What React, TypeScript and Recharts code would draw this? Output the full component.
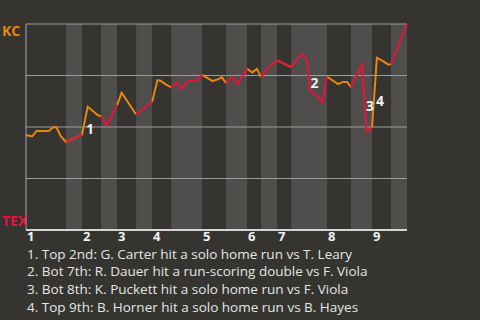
import {
  ComposedChart,
  Line,
  XAxis,
  YAxis,
  ReferenceArea,
  ReferenceLine,
  ReferenceDot,
} from "recharts";

// Game progress (% of plays) where each half-inning starts; last entry closes the game.
const halfStarts = [
  0, 10.5, 14.7, 19.7, 23.9, 28.9, 33.1, 38.1, 46.2, 52.5, 58.0, 61.7, 65.9,
  69.6, 79.0, 85.3, 90.8, 95.8, 100,
];
const innings = [1, 2, 3, 4, 5, 6, 7, 8, 9];

// Play-by-play position and KC win probability (%) after each play.
const progress = [
  0, 1.6, 2.8, 6.0, 7.1, 8.0, 9.1, 10.5, 14.7, 16.2, 18.9, 19.7, 21.2, 23.9,
  25.1, 28.9, 32.5, 33.1, 34.5, 35.2, 36.7, 38.1, 39.6, 40.9, 42.4, 44.8, 46.2,
  49.0, 50.5, 51.4, 52.5, 54.1, 55.5, 57.0, 58.0, 59.4, 60.6, 61.7, 63.8, 65.9,
  69.6, 71.4, 72.5, 73.6, 74.6, 76.2, 77.8, 79.0, 81.9, 83.2, 84.3, 85.3, 88.2,
  89.1, 89.4, 90.5, 90.8, 92.1, 93.7, 95.0, 95.8, 100,
];
const kcWinProb = [
  46.1, 45.4, 48.1, 48.1, 49.9, 49.9, 45.5, 42.7, 46.3, 59.8, 55.7, 55.2, 50.9,
  60.6, 66.6, 56.1, 61.4, 62.2, 72.7, 72.6, 70.7, 69.2, 71.6, 68.4, 72.4, 72.4,
  75.3, 72.3, 73.2, 74.2, 71.3, 74.4, 70.8, 75.3, 78.2, 76.5, 78.2, 74.2, 79.2,
  82.3, 79.1, 83.6, 85.4, 83.3, 67.5, 65.4, 61.9, 74.4, 70.8, 71.9, 71.9, 69.3,
  80.5, 54.1, 47.6, 49.1, 49.7, 83.6, 82.0, 80.4, 80.4, 100,
];

// Key plays: where the swing starts and ends, plus the note shown below.
const eventFrom = [14.7, 73.6, 88.2, 90.8];
const eventTo = [16.2, 74.6, 89.4, 92.1];
const eventNotes = [
  "Top 2nd: G. Carter hit a solo home run vs T. Leary",
  "Bot 7th: R. Dauer hit a run-scoring double vs F. Viola",
  "Bot 8th: K. Puckett hit a solo home run vs F. Viola",
  "Top 9th: B. Horner hit a solo home run vs B. Hayes",
];

const KC = "#e8870e";
const TEX = "#e8123c";
const BG = "#363431";
const BAND = "#4f4e4c";
const FONT = "'Open Sans', sans-serif";

const wpAt = (x: number) => kcWinProb[progress.indexOf(x)];

// a point belongs to the top (even) and/or bottom (odd) half it sits in
const chartData = progress.map((x, i) => {
  let top: number | null = null;
  let bottom: number | null = null;
  for (let h = 0; h < halfStarts.length - 1; h++) {
    if (x >= halfStarts[h] && x <= halfStarts[h + 1]) {
      if (h % 2 === 0) top = kcWinProb[i];
      else bottom = kcWinProb[i];
    }
  }
  return { x, top, bottom };
});

const inningTicks = innings.map((_, i) => halfStarts[i * 2]);

const InningTick = ({ x, y, index }: any) => (
  <text
    x={x + 1}
    y={y + 11}
    textAnchor="start"
    fill="#f0f0f0"
    fontFamily={FONT}
    fontWeight={700}
    fontSize={13}
  >
    {innings[index]}
  </text>
);

const TeamTick = ({ x, y, payload }: any) => {
  if (payload.value === 100)
    return (
      <text x={x - 24} y={y + 12} fill={KC} fontFamily={FONT} fontWeight={700} fontSize={14}>
        KC
      </text>
    );
  if (payload.value === 0)
    return (
      <text x={x - 24} y={y - 4} fill={TEX} fontFamily={FONT} fontWeight={700} fontSize={14}>
        TEX
      </text>
    );
  return <g />;
};

const EventLabel = (n: number) => (props: any) => {
  const { cx, cy } = props;
  return (
    <text
      x={cx + 8}
      y={cy + 13}
      textAnchor="middle"
      fill="#eeeeee"
      fontFamily={FONT}
      fontWeight={700}
      fontSize={14}
    >
      {n}
    </text>
  );
};

export default function App() {
  return (
    <div
      style={{
        position: "fixed",
        left: 0,
        top: 0,
        width: 480,
        height: 320,
        background: BG,
        fontFamily: FONT,
      }}
    >
      <ComposedChart
        width={480}
        height={250}
        data={chartData}
        margin={{ top: 24, right: 73, left: 0, bottom: 0 }}
      >
        <XAxis
          dataKey="x"
          type="number"
          domain={[0, 100]}
          ticks={inningTicks}
          tick={<InningTick />}
          tickLine={false}
          tickSize={0}
          tickMargin={0}
          height={20}
          axisLine={{ stroke: "#d4d4d4", strokeWidth: 2 }}
        />
        <YAxis
          type="number"
          domain={[0, 100]}
          ticks={[0, 25, 50, 75, 100]}
          tick={<TeamTick />}
          tickLine={false}
          tickSize={0}
          tickMargin={0}
          width={26}
          axisLine={{ stroke: "#a8a8a8" }}
        />
        {halfStarts.slice(0, -1).map((start, h) =>
          h % 2 === 1 ? (
            <ReferenceArea
              key={`band-${h}`}
              x1={start}
              x2={halfStarts[h + 1]}
              fill={BAND}
              fillOpacity={1}
              stroke="none"
            />
          ) : null
        )}
        {[25, 50, 75, 100].map((v) => (
          <ReferenceLine key={`grid-${v}`} y={v} stroke="#9c9c9c" strokeWidth={1} />
        ))}
        <Line
          type="linear"
          dataKey="top"
          stroke={KC}
          strokeWidth={2}
          dot={false}
          isAnimationActive={false}
        />
        <Line
          type="linear"
          dataKey="bottom"
          stroke={TEX}
          strokeWidth={2}
          dot={false}
          isAnimationActive={false}
        />
        {eventFrom.map((from, i) => (
          <ReferenceDot
            key={`event-${i}`}
            x={from}
            y={(wpAt(from) + wpAt(eventTo[i])) / 2}
            r={0}
            fill="none"
            stroke="none"
            shape={EventLabel(i + 1)}
          />
        ))}
      </ComposedChart>
      <div
        style={{
          position: "absolute",
          left: 27,
          top: 247.7,
          color: "#e4e4e4",
          fontSize: 13.5,
          lineHeight: "13.5px",
          whiteSpace: "nowrap",
        }}
      >
        {eventNotes.map((note, i) => (
          <div key={i} style={{ marginBottom: 4.2 }}>
            {i + 1}. {note}
          </div>
        ))}
      </div>
    </div>
  );
}
